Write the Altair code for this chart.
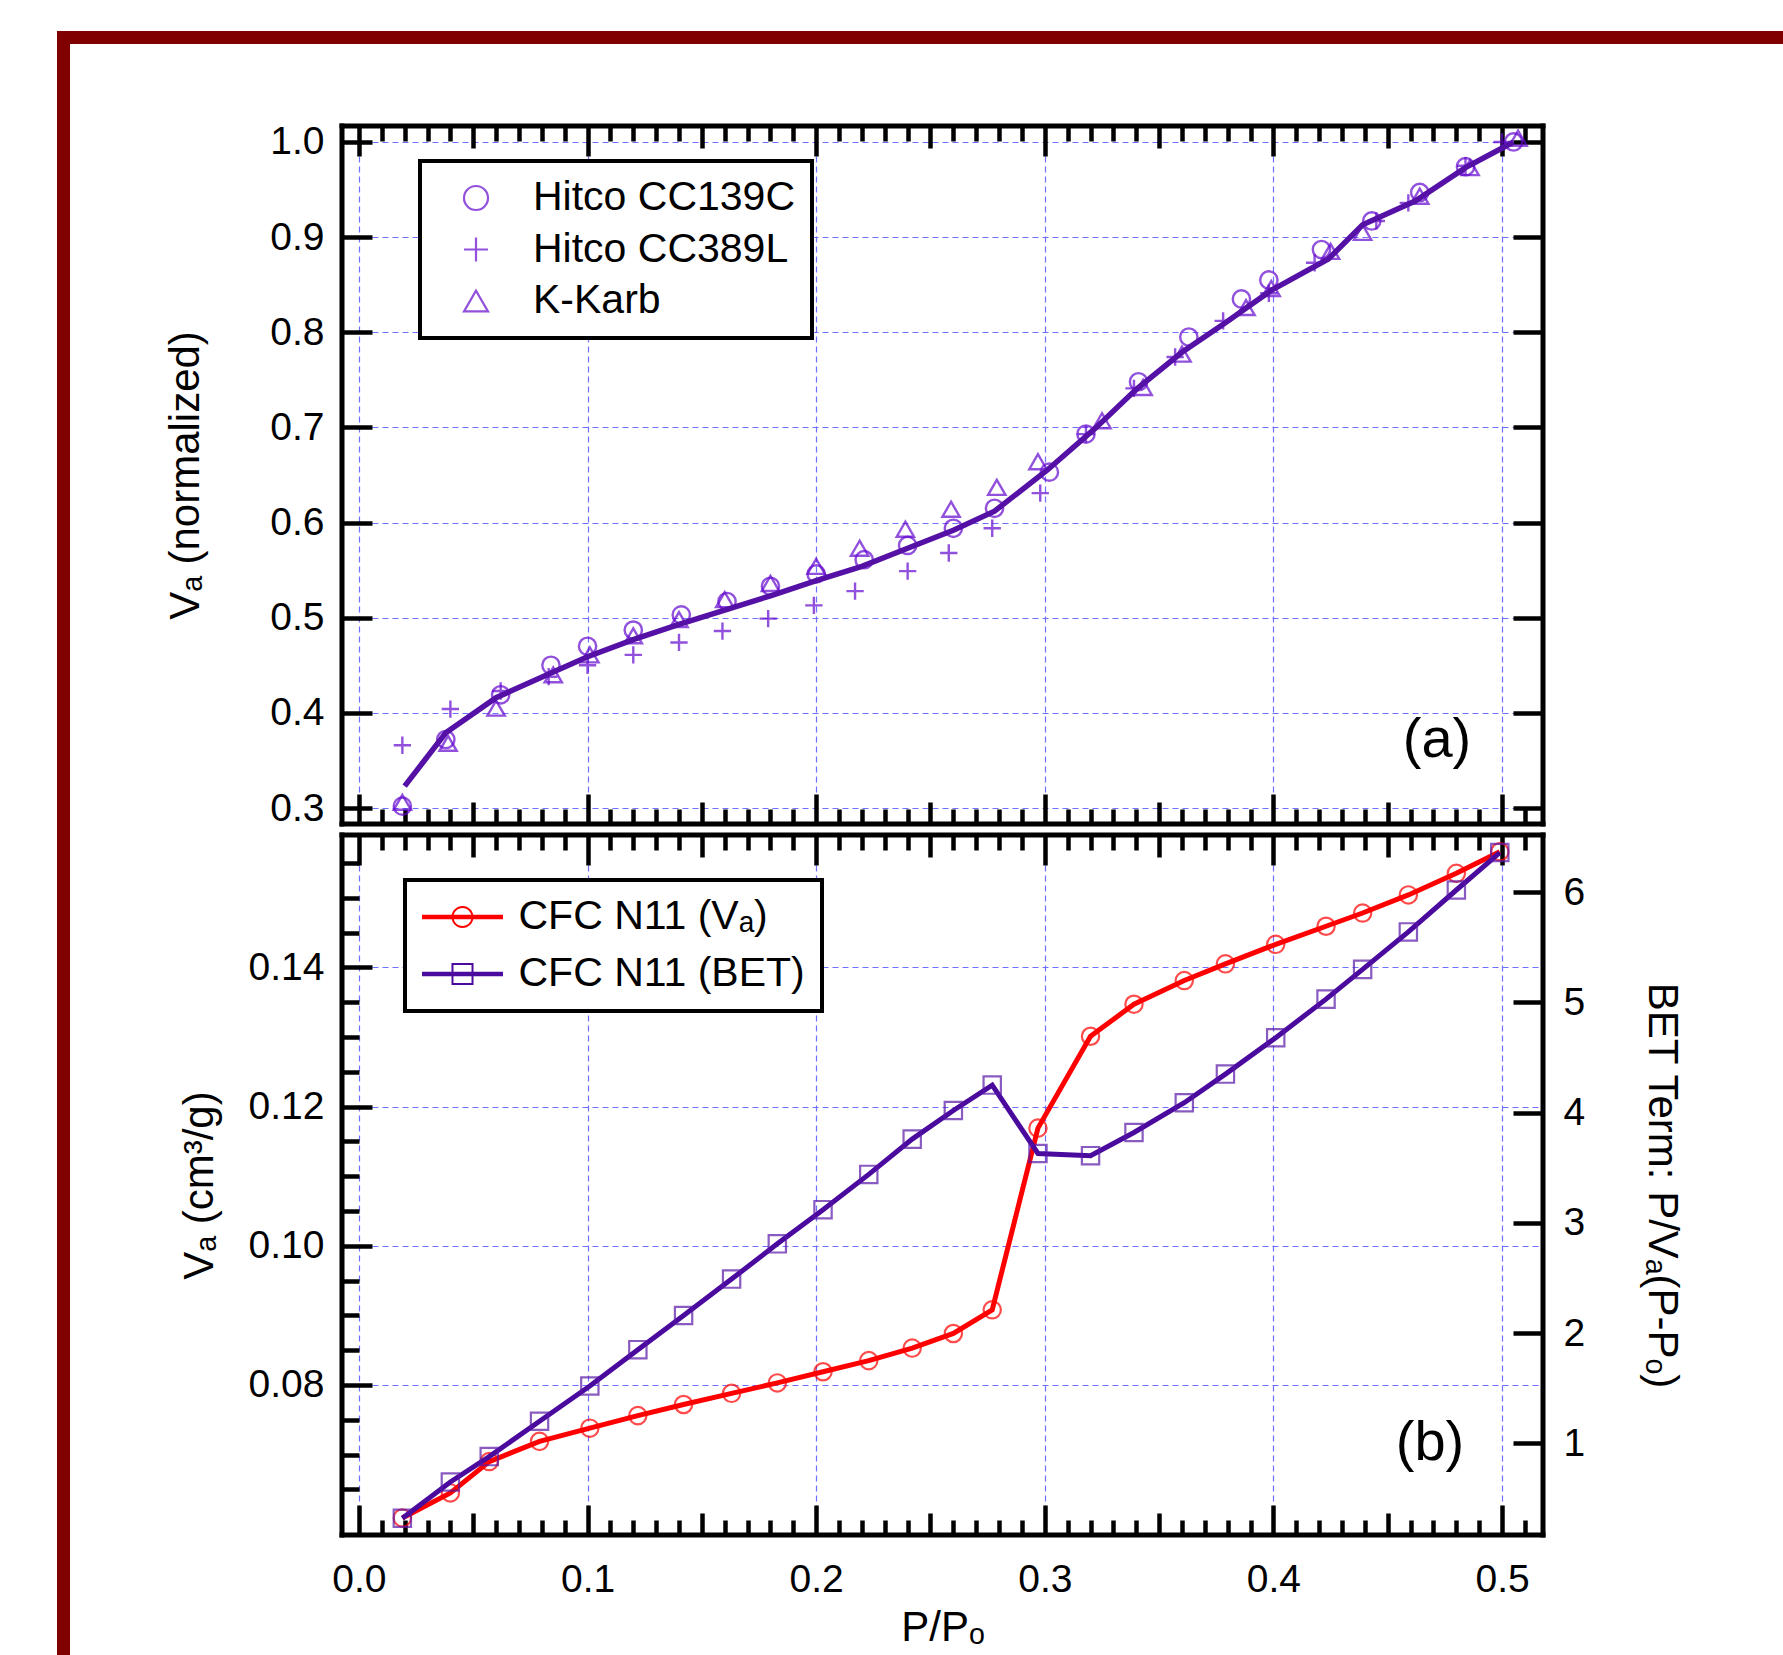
import altair as alt
import pandas as pd

# ---------------- panel (a): normalised isotherms ----------------
SERIES_A = ["Hitco CC139C", "Hitco CC389L", "K-Karb"]

cc139c_x = [0.019, 0.038, 0.062, 0.084, 0.100, 0.120, 0.141, 0.161, 0.180, 0.200, 0.221, 0.240, 0.260,
            0.278, 0.302, 0.318, 0.341, 0.363, 0.386, 0.398, 0.421, 0.443, 0.464, 0.484, 0.505]
cc139c_y = [0.302, 0.372, 0.419, 0.450, 0.470, 0.487, 0.503, 0.517, 0.533, 0.546, 0.561, 0.576, 0.594,
            0.615, 0.653, 0.693, 0.748, 0.795, 0.835, 0.855, 0.887, 0.917, 0.947, 0.974, 1.000]

cc389l_x = [0.019, 0.040, 0.062, 0.083, 0.100, 0.120, 0.140, 0.159, 0.179, 0.199, 0.217, 0.240, 0.258,
            0.277, 0.298, 0.318, 0.339, 0.357, 0.378, 0.398, 0.418, 0.445, 0.459, 0.484, 0.500]
cc389l_y = [0.366, 0.404, 0.423, 0.438, 0.450, 0.461, 0.474, 0.486, 0.499, 0.513, 0.528, 0.549, 0.568,
            0.594, 0.631, 0.693, 0.741, 0.774, 0.812, 0.841, 0.873, 0.917, 0.936, 0.975, 1.000]

kkarb_x = [0.019, 0.039, 0.060, 0.085, 0.101, 0.120, 0.140, 0.160, 0.180, 0.200, 0.219, 0.239, 0.259,
           0.279, 0.297, 0.325, 0.343, 0.360, 0.388, 0.399, 0.425, 0.439, 0.464, 0.486, 0.507]
kkarb_y = [0.306, 0.368, 0.405, 0.440, 0.461, 0.481, 0.498, 0.519, 0.536, 0.554, 0.573, 0.593, 0.614,
           0.637, 0.664, 0.707, 0.742, 0.777, 0.826, 0.846, 0.885, 0.905, 0.943, 0.973, 1.004]

fit_x = [0.020, 0.038, 0.060, 0.085, 0.100, 0.120, 0.140, 0.160, 0.180, 0.200, 0.220, 0.240, 0.260,
         0.278, 0.301, 0.322, 0.340, 0.360, 0.379, 0.399, 0.424, 0.439, 0.462, 0.484, 0.505]
fit_y = [0.323, 0.379, 0.416, 0.443, 0.459, 0.477, 0.493, 0.508, 0.523, 0.539, 0.554, 0.573, 0.592,
         0.612, 0.655, 0.699, 0.740, 0.779, 0.810, 0.844, 0.877, 0.913, 0.938, 0.973, 1.000]

# ---------------- panel (b): CFC N11 ----------------
SERIES_B = ["CFC N11 (Vₐ)", "CFC N11 (BET)"]
b_x = [0.019, 0.040, 0.057, 0.079, 0.101, 0.122, 0.142, 0.163, 0.183, 0.203, 0.223, 0.242, 0.260,
       0.277, 0.297, 0.320, 0.339, 0.361, 0.379, 0.401, 0.423, 0.439, 0.459, 0.480, 0.499]
b_va = [0.0609, 0.0645, 0.0690, 0.0719, 0.0738, 0.0756, 0.0772, 0.0788, 0.0803, 0.0819, 0.0835, 0.0853,
        0.0874, 0.0908, 0.1169, 0.1301, 0.1347, 0.1381, 0.1405, 0.1433, 0.1459, 0.1478, 0.1504, 0.1535,
        0.1566]
b_bet = [0.32, 0.65, 0.88, 1.20, 1.52, 1.85, 2.16, 2.49, 2.81, 3.12, 3.44, 3.76, 4.02, 4.25, 3.63, 3.61,
         3.82, 4.09, 4.35, 4.68, 5.03, 5.30, 5.64, 6.02, 6.36]

# ---------------- tick values / labels ----------------
X_TICKS = [0.0, 0.1, 0.2, 0.3, 0.4, 0.5]
X_MID = [0.05, 0.15, 0.25, 0.35, 0.45]
X_MINOR = [round(i / 100, 2) for i in range(1, 52) if i % 5]
YA_TICKS = [0.3, 0.4, 0.5, 0.6, 0.7, 0.8, 0.9, 1.0]
YB_TICKS = [0.08, 0.10, 0.12, 0.14]
YB_MINOR = [0.065, 0.07, 0.075, 0.085, 0.09, 0.095, 0.105, 0.11, 0.115, 0.125, 0.13, 0.135, 0.145, 0.15, 0.155]
YR_TICKS = [1, 2, 3, 4, 5, 6]

XDOM = [-0.0074, 0.5179]
YA_DOM = [0.2832, 1.0168]
YB_DOM = [0.05845, 0.15901]
YR_DOM = [0.1686, 6.519]

W, H1, H2 = 1201, 698, 700
FONT = "Liberation Sans"
GRID = "#6E6EFF"
FRAME = "#800000"
PURPLE_A = "#6408CF"
LINE_A = "#5510A6"
RED = "#FF0000"
PURPLE_B = "#4B0A9E"
SQUARE_B = "#5816A8"

PLUS = "M-1,0H1M0,-1V1"
LEG_CIRCLE = ("M-3.68,-0.2H3.68V0.2H-3.68Z"
              "M1,0A1,1,0,1,1,-1,0A1,1,0,1,1,1,0Z"
              "M0.82,0A0.82,0.82,0,1,0,-0.82,0A0.82,0.82,0,1,0,0.82,0Z")
LEG_SQUARE = ("M-3.68,-0.2H3.68V0.2H-3.68Z"
              "M-1,-1H1V1H-1Z"
              "M-0.82,-0.82V0.82H0.82V-0.82Z")

XS = alt.Scale(domain=XDOM, nice=False, zero=False)


def ys(dom):
    return alt.Scale(domain=dom, nice=False, zero=False)


def one(dom):
    return pd.DataFrame({"gx": [0.25], "gy": [(dom[0] + dom[1]) / 2]})


def bare(**kw):
    base = dict(domain=False, grid=False, labels=False, ticks=False, title=None)
    base.update(kw)
    return alt.Axis(**base)


def ticks(orient, offset, values, size):
    return bare(orient=orient, offset=offset, values=values, ticks=True, tickSize=size,
                tickWidth=4.5, tickColor="black")


def guide(dom, xaxis, yaxis):
    return alt.Chart(one(dom)).mark_point(opacity=0).encode(
        x=alt.X("gx:Q", scale=XS, axis=xaxis),
        y=alt.Y("gy:Q", scale=ys(dom), axis=yaxis),
    )


def rect(dom, x, x2, y, y2, color=FRAME):
    return alt.Chart(one(dom)).mark_rect(color=color).encode(
        x=alt.value(x), x2=alt.value(x2), y=alt.value(y), y2=alt.value(y2))


def box(dom, h, t=2.5):
    # black plot frame drawn as four filled bars
    return [
        rect(dom, -t, W + t, -t, t, "black"),
        rect(dom, -t, W + t, h - t, h + t, "black"),
        rect(dom, -t, t, -t, h + t, "black"),
        rect(dom, W - t, W + t, -t, h + t, "black"),
    ]


def label(dom, txt, x, y):
    return alt.Chart(one(dom)).mark_text(text=txt, font=FONT, fontSize=56, align="center",
                                         baseline="middle", color="black").encode(
        x=alt.value(x), y=alt.value(y))


# ---------------- top panel ----------------
top_pts = pd.DataFrame({
    "x": cc139c_x + cc389l_x + kkarb_x,
    "y": cc139c_y + cc389l_y + kkarb_y,
    "series": [SERIES_A[0]] * len(cc139c_x) + [SERIES_A[1]] * len(cc389l_x) + [SERIES_A[2]] * len(kkarb_x),
})
fit = pd.DataFrame({"x": fit_x, "y": fit_y})

leg_a = alt.Legend(title=None, orient="none", legendX=78, legendY=35, padding=16.5, rowPadding=9.5,
                   symbolSize=576, symbolStrokeWidth=2.2, symbolOffset=19, labelOffset=36.5,
                   labelLimit=500, labelFontSize=41)

pts_a = alt.Chart(top_pts).mark_point(filled=False, size=300, strokeWidth=2.4, color=PURPLE_A).encode(
    x=alt.X("x:Q", scale=XS, axis=None),
    y=alt.Y("y:Q", scale=ys(YA_DOM), axis=None),
    shape=alt.Shape("series:N", scale=alt.Scale(domain=SERIES_A, range=["circle", PLUS, "triangle-up"]),
                    legend=leg_a),
)
line_a = alt.Chart(fit).mark_line(color=LINE_A, strokeWidth=5.5).encode(
    x=alt.X("x:Q", scale=XS, axis=None),
    y=alt.Y("y:Q", scale=ys(YA_DOM), axis=None),
)

top = alt.layer(
    rect(YA_DOM, -285, 1441, -95, -82),
    rect(YA_DOM, -285, -272, -95, H1 + 6),
    guide(YA_DOM,
          bare(orient="bottom", grid=True, values=X_TICKS),
          bare(orient="left", grid=True, labels=True, values=YA_TICKS, format=".1f", labelPadding=18,
               title="Vₐ (normalized)", titlePadding=62)),
    guide(YA_DOM, ticks("top", -H1, X_TICKS, 30), ticks("right", -W, YA_TICKS, 30)),
    guide(YA_DOM, ticks("top", -H1, X_MID, 22), ticks("left", -W, YA_TICKS, 30)),
    guide(YA_DOM, ticks("top", -H1, X_MINOR, 15), None),
    guide(YA_DOM, ticks("bottom", -H1, X_TICKS, 30), None),
    guide(YA_DOM, ticks("bottom", -H1, X_MID, 22), None),
    guide(YA_DOM, ticks("bottom", -H1, X_MINOR, 15), None),
    pts_a,
    line_a,
    label(YA_DOM, "(a)", 1095, 614),
    *box(YA_DOM, H1),
).resolve_axis(x="independent", y="independent").properties(width=W, height=H1)

# ---------------- bottom panel ----------------
dfb = pd.DataFrame({"x": b_x, "va": b_va, "bet": b_bet})
leg_rows = pd.DataFrame({"series": SERIES_B, "gx": [0.25, 0.25], "gy": [0.1, 0.1]})

leg_b = alt.Legend(title=None, orient="none", legendX=63, legendY=45, padding=16.5, rowPadding=15,
                   symbolSize=484, symbolStrokeWidth=0, symbolOpacity=1, symbolOffset=20.5,
                   labelOffset=35.5, labelLimit=500, labelFontSize=41)

red_line = alt.Chart(dfb).mark_line(color=RED, strokeWidth=5).encode(
    x=alt.X("x:Q", scale=XS, axis=None), y=alt.Y("va:Q", scale=ys(YB_DOM), axis=None))
red_pts = alt.Chart(dfb).mark_point(shape="circle", filled=False, color=RED, size=300, strokeWidth=2.2).encode(
    x=alt.X("x:Q", scale=XS, axis=None), y=alt.Y("va:Q", scale=ys(YB_DOM), axis=None))
pur_line = alt.Chart(dfb).mark_line(color=PURPLE_B, strokeWidth=5).encode(
    x=alt.X("x:Q", scale=XS, axis=None), y=alt.Y("bet:Q", scale=ys(YR_DOM), axis=None))
pur_pts = alt.Chart(dfb).mark_point(shape="square", filled=False, color=SQUARE_B, size=300, strokeWidth=2.2).encode(
    x=alt.X("x:Q", scale=XS, axis=None), y=alt.Y("bet:Q", scale=ys(YR_DOM), axis=None))
leg_layer = alt.Chart(leg_rows).mark_point(filled=True, opacity=0).encode(
    x=alt.X("gx:Q", scale=XS, axis=None),
    y=alt.Y("gy:Q", scale=ys(YB_DOM), axis=None),
    fill=alt.Fill("series:N", scale=alt.Scale(domain=SERIES_B, range=[RED, PURPLE_B]), legend=leg_b),
    shape=alt.Shape("series:N", scale=alt.Scale(domain=SERIES_B, range=[LEG_CIRCLE, LEG_SQUARE]), legend=leg_b),
)

bottom = alt.layer(
    rect(YB_DOM, -285, -272, -5, 820),
    guide(YB_DOM,
          bare(orient="bottom", grid=True, labels=True, values=X_TICKS, format=".1f", labelPadding=25,
               title="P/Pₒ", titlePadding=8),
          bare(orient="left", grid=True, labels=True, values=YB_TICKS, format=".2f", labelPadding=18,
               title="Vₐ (cm³/g)", titlePadding=27)),
    guide(YR_DOM, ticks("top", -H2, X_TICKS, 30),
          bare(orient="right", labels=True, values=YR_TICKS, format="d", labelPadding=20,
               title="BET Term: P/Vₐ(P-Pₒ)", titlePadding=55)),
    guide(YB_DOM, ticks("top", -H2, X_MID, 22), ticks("right", -W, YB_TICKS, 30)),
    guide(YB_DOM, ticks("top", -H2, X_MINOR, 15), ticks("right", -W, YB_MINOR, 17)),
    guide(YR_DOM, ticks("bottom", -H2, X_TICKS, 30), ticks("left", -W, YR_TICKS, 30)),
    guide(YB_DOM, ticks("bottom", -H2, X_MID, 22), None),
    guide(YB_DOM, ticks("bottom", -H2, X_MINOR, 15), None),
    red_line, red_pts, pur_line, pur_pts,
    leg_layer,
    label(YB_DOM, "(b)", 1088, 608),
    *box(YB_DOM, H2),
).resolve_scale(y="independent").resolve_axis(x="independent", y="independent").properties(width=W, height=H2)

chart = alt.vconcat(top, bottom, spacing=0).resolve_scale(
    shape="independent", fill="independent"
).resolve_legend(
    shape="independent", fill="independent"
).properties(
    autosize=alt.AutoSizeParams(type="pad"),
    padding={"left": 57, "top": 31, "right": 0, "bottom": 0},
    background="white",
).configure_view(
    strokeWidth=0, strokeOpacity=0
).configure_axis(
    labelFont=FONT, labelFontSize=39, labelColor="black",
    titleFont=FONT, titleFontSize=42, titleFontWeight="normal", titleColor="black", titleLimit=1000,
    labelFlush=False, labelOverlap=False, labelBound=False,
    gridColor=GRID, gridDash=[6, 4], gridWidth=1.2, gridOpacity=1,
    minExtent=0, maxExtent=400,
).configure_legend(
    labelFont=FONT, labelColor="black", strokeColor="black", strokeWidth=4, fillColor="white",
    cornerRadius=0,
)

chart.save("out.html", embed_options={"renderer": "svg", "actions": False})
